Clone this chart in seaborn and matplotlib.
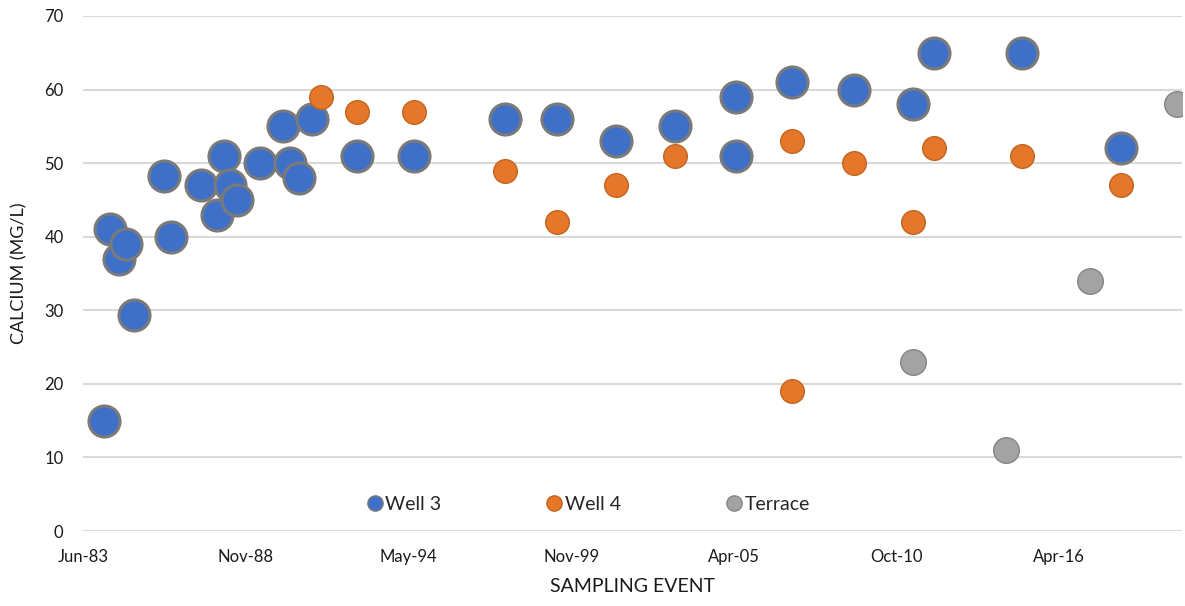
import matplotlib
matplotlib.use("Agg")
import matplotlib.pyplot as plt
import matplotlib.dates as mdates
from matplotlib.lines import Line2D
import seaborn as sns
import pandas as pd
import numpy as np

# calcium readings per sampling event (mg/L)
well3_dates = ["1984-02-14", "1984-04-28", "1984-08-17", "1984-11-11", "1985-02-17",
               "1986-02-21", "1986-05-18", "1987-05-22", "1987-12-05", "1988-02-29",
               "1988-05-12", "1988-08-07", "1989-05-16", "1990-02-23", "1990-05-20",
               "1990-09-08", "1991-02-15", "1992-08-21", "1994-07-23", "1997-08-16",
               "1999-05-15", "2001-05-11", "2003-05-05", "2005-05-25", "2005-05-25",
               "2007-04-14", "2009-05-14", "2011-05-10", "2012-01-24", "2015-01-10",
               "2018-05-11"]
well3_ca = [15, 41, 37, 39, 29.3, 48.3, 40, 47, 43, 51, 47, 45, 50, 55, 50, 48, 56,
            51, 51, 56, 56, 53, 55, 59, 51, 61, 60, 58, 65, 65, 52]

well4_dates = ["1991-06-05", "1992-08-21", "1994-07-23", "1997-08-16", "1999-05-15",
               "2001-05-11", "2003-05-05", "2007-04-14", "2007-04-14", "2009-05-14",
               "2011-05-10", "2012-01-24", "2015-01-10", "2018-05-11"]
well4_ca = [59, 57, 57, 49, 42, 47, 51, 53, 19, 50, 42, 52, 51, 47]

terrace_dates = ["2011-05-10", "2014-06-28", "2017-04-26", "2020-04-01"]
terrace_ca = [23, 11, 34, 58]

series = ["Well 3", "Well 4", "Terrace"]
colors = {"Well 3": "#3f70c8", "Well 4": "#e5772a", "Terrace": "#a3a3a3"}

df = pd.concat([
    pd.DataFrame({"date": pd.to_datetime(well3_dates), "ca": well3_ca, "site": "Well 3"}),
    pd.DataFrame({"date": pd.to_datetime(well4_dates), "ca": well4_ca, "site": "Well 4"}),
    pd.DataFrame({"date": pd.to_datetime(terrace_dates), "ca": terrace_ca, "site": "Terrace"}),
])

sns.set_style("white")
plt.rcParams["font.family"] = ["Lato", "DejaVu Sans"]

fig = plt.figure(figsize=(11.85, 6.06), dpi=100)
ax = fig.add_axes([83 / 1185, 75 / 606, 1099 / 1185, 515 / 606])

# marker size & edge per series (well 3 is the big one)
sizes = {"Well 3": 500, "Well 4": 290, "Terrace": 340}
edges = {"Well 3": "#7a7a7a", "Well 4": "#c4641f", "Terrace": "#858585"}
for s in series:
    sub = df[df["site"] == s]
    sns.scatterplot(data=sub, x="date", y="ca", ax=ax, s=sizes[s], color=colors[s],
                    edgecolor=edges[s], linewidth=2.2 if s == "Well 3" else 1.0,
                    legend=False, zorder=3, clip_on=True)

start = pd.Timestamp("1983-06-01")
ax.set_xlim(start, start + pd.Timedelta(days=13510))
ax.set_ylim(0, 70)
ax.set_yticks(np.arange(0, 71, 10))
ticks = [start + pd.Timedelta(days=2000 * i) for i in range(7)]
ax.set_xticks(ticks)
ax.xaxis.set_major_formatter(mdates.DateFormatter("%b-%y"))

ax.grid(axis="y", color="#d9d9d9", linewidth=1.5)
ax.grid(axis="x", visible=False)
for sp in ax.spines.values():
    sp.set_visible(False)
ax.tick_params(axis="both", length=0, labelsize=12, colors="#1a1a1a")
ax.tick_params(axis="x", pad=13)
ax.tick_params(axis="y", pad=14)

ax.set_xlabel("SAMPLING EVENT", fontsize=14, color="#1a1a1a", labelpad=9)
ax.set_ylabel("CALCIUM (MG/L)", fontsize=13, color="#1a1a1a", labelpad=12)

handles = [Line2D([0], [0], marker="o", linestyle="", markersize=11,
                  markerfacecolor=colors[s], markeredgecolor=edges[s], markeredgewidth=1.0)
           for s in series]
ax.legend(handles, series, loc="center", bbox_to_anchor=(0.459, 0.052), ncol=3,
          frameon=False, fontsize=14, handletextpad=0.05, columnspacing=5.3,
          handlelength=1.0)

fig.savefig("out.png", dpi=100)
